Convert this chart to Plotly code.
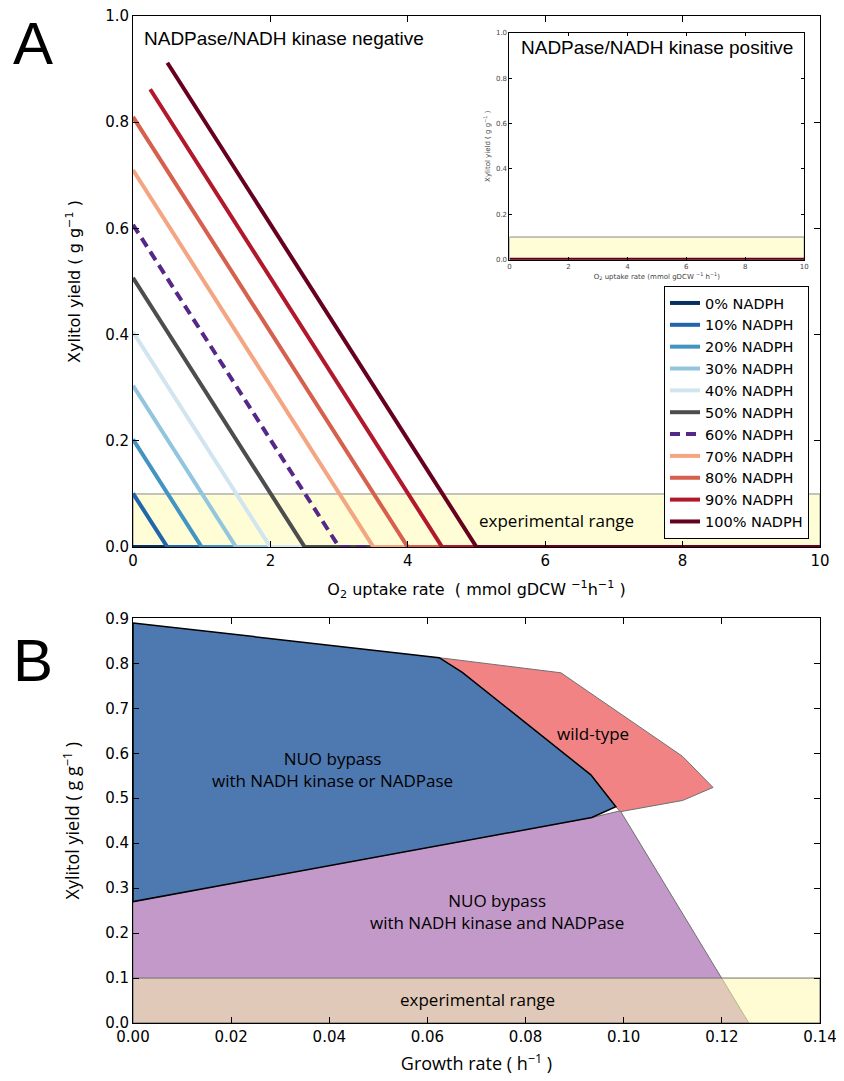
import plotly.graph_objects as go

# ---------------- Panel A data ----------------
nadph_labels = ["0% NADPH", "10% NADPH", "20% NADPH", "30% NADPH", "40% NADPH",
                "50% NADPH", "60% NADPH", "70% NADPH", "80% NADPH", "90% NADPH",
                "100% NADPH"]
line_colors = ["#053061", "#2166ac", "#4393c3", "#92c5de", "#d1e5f0", "#4d4d4d",
               "#542788", "#f4a582", "#d6604d", "#b2182b", "#67001f"]
# start point (x, y), point where yield reaches zero, end of axis
start_x = [0.0, 0.0, 0.0, 0.0, 0.0, 0.0, 0.0, 0.0, 0.0, 0.25, 0.5]
start_y = [0.0, 0.101, 0.203, 0.304, 0.405, 0.507, 0.607, 0.71, 0.81, 0.862, 0.912]
zero_x = [0.0, 0.5, 1.0, 1.5, 2.0, 2.5, 3.0, 3.5, 4.0, 4.5, 5.0]
end_x = 10.0

exp_range_A = [0.0, 0.1]
inset_x = [0.0, 10.0]
inset_y = [0.0, 0.0]

# ---------------- Panel B data ----------------
blue_x = [0.0, 0.0624, 0.0671, 0.0933, 0.0984, 0.0935, 0.0]
blue_y = [0.89, 0.8126, 0.780, 0.552, 0.481, 0.457, 0.270]
red_x = [0.0624, 0.0872, 0.0928, 0.112, 0.1182, 0.112, 0.0993, 0.0984, 0.0933, 0.0671, 0.0624]
red_y = [0.8126, 0.779, 0.737, 0.593, 0.524, 0.495, 0.470, 0.481, 0.552, 0.780, 0.8126]
purple_x = [0.0, 0.0, 0.0935, 0.0993, 0.1255, 0.0]
purple_y = [0.0, 0.270, 0.457, 0.472, 0.0, 0.0]
exp_range_B = [0.0, 0.1]

fig = go.Figure()

# ---- Panel A ----
fig.add_trace(go.Scatter(x=[0, end_x, end_x, 0, 0],
                         y=[exp_range_A[0], exp_range_A[0], exp_range_A[1], exp_range_A[1], exp_range_A[0]],
                         fill="toself", fillcolor="#fffdd5", mode="lines",
                         line=dict(color="#888888", width=1), showlegend=False,
                         hoverinfo="skip", xaxis="x", yaxis="y"))
for i, lab in enumerate(nadph_labels):
    fig.add_trace(go.Scatter(
        x=[start_x[i], zero_x[i], end_x], y=[start_y[i], 0.0, 0.0],
        mode="lines", name=lab,
        line=dict(color=line_colors[i], width=4,
                  dash="10px,6px" if i == 6 else "solid"),
        xaxis="x", yaxis="y"))

# ---- Inset ----
fig.add_trace(go.Scatter(x=[0, 10, 10, 0, 0], y=[0, 0, 0.1, 0.1, 0],
                         fill="toself", fillcolor="#fffdd5", mode="lines",
                         line=dict(color="#888888", width=1), showlegend=False,
                         hoverinfo="skip", xaxis="x2", yaxis="y2"))
fig.add_trace(go.Scatter(x=inset_x, y=inset_y, mode="lines",
                         line=dict(color=line_colors[-1], width=4),
                         showlegend=False, xaxis="x2", yaxis="y2"))

# ---- Panel B ----
fig.add_trace(go.Scatter(x=purple_x, y=purple_y, fill="toself", fillcolor="#c399c9",
                         mode="lines", line=dict(color="#707070", width=1),
                         showlegend=False, hoverinfo="skip", xaxis="x3", yaxis="y3"))
fig.add_trace(go.Scatter(x=red_x, y=red_y, fill="toself", fillcolor="rgba(240,124,126,0.95)",
                         mode="lines", line=dict(color="#707070", width=1),
                         showlegend=False, hoverinfo="skip", xaxis="x3", yaxis="y3"))
fig.add_trace(go.Scatter(x=blue_x + [blue_x[0]], y=blue_y + [blue_y[0]], fill="toself",
                         fillcolor="#4e78b0", mode="lines", line=dict(color="black", width=1.5),
                         showlegend=False, hoverinfo="skip", xaxis="x3", yaxis="y3"))
fig.add_trace(go.Scatter(x=[0, 0.14, 0.14, 0, 0],
                         y=[exp_range_B[0], exp_range_B[0], exp_range_B[1], exp_range_B[1], exp_range_B[0]],
                         fill="toself", fillcolor="rgba(255,250,170,0.5)", mode="lines",
                         line=dict(color="#707070", width=1), showlegend=False,
                         hoverinfo="skip", xaxis="x3", yaxis="y3"))

tickfont = dict(family="DejaVu Sans", size=15, color="black")
ax_common = dict(showgrid=False, zeroline=False, showline=True, linecolor="black",
                 linewidth=1, mirror="ticks", ticks="inside", ticklen=6,
                 tickcolor="black", tickfont=tickfont, automargin=False,
                 ticklabeloverflow="allow")

narrow = "Open Sans, sans-serif"
small = dict(family="DejaVu Sans", size=7, color="#444")

# the page adds an 8px body margin, so the figure is 8px smaller on each side
fig.update_layout(
    width=836, height=1073,
    margin=dict(l=124.5, r=24, t=7.5, b=58.3, autoexpand=False),
    paper_bgcolor="white", plot_bgcolor="white",
    showlegend=True,
    legend=dict(x=0.984, y=0.4806, xanchor="right", yanchor="bottom",
                bgcolor="white", bordercolor="black", borderwidth=1,
                font=dict(family="DejaVu Sans", size=14.5, color="black"),
                tracegroupgap=0, itemwidth=30),
    xaxis=dict(ax_common, domain=[0, 1], range=[0, 10], dtick=2, anchor="y",
               title=dict(text="O<sub>2</sub> uptake rate  ( mmol gDCW <sup>−1</sup>h<sup>−1</sup> )",
                          font=dict(family="DejaVu Sans", size=16, color="black"), standoff=14)),
    yaxis=dict(ax_common, domain=[0.4726, 1], range=[0, 1.0], dtick=0.2, tickformat=".1f",
               anchor="x",
               title=dict(text="Xylitol yield ( g g<sup>−1</sup> )",
                          font=dict(family="DejaVu Sans", size=16, color="black"), standoff=20)),
    xaxis2=dict(ax_common, domain=[0.548, 0.977], range=[0, 10], dtick=2, anchor="y2",
                ticklen=3, tickfont=small,
                title=dict(text="O<sub>2</sub> uptake rate (mmol gDCW <sup>−1</sup> h<sup>−1</sup>)",
                           font=small, standoff=2)),
    yaxis2=dict(ax_common, domain=[0.758, 0.9833], range=[0, 1.0], dtick=0.2, tickformat=".1f",
                anchor="x2", ticklen=3, tickfont=small,
                title=dict(text="Xylitol yield ( g g<sup>−1</sup> )", font=small, standoff=4)),
    xaxis3=dict(ax_common, domain=[0, 1], range=[0, 0.14], dtick=0.02, tickformat=".2f",
                anchor="y3",
                title=dict(text="Growth rate ( h<sup>−1</sup> )",
                           font=dict(family=narrow, size=18, color="black"), standoff=12)),
    yaxis3=dict(ax_common, domain=[0, 0.4018], range=[0, 0.9], dtick=0.1, tickformat=".1f",
                anchor="x3",
                title=dict(text="Xylitol yield ( g g<sup>−1</sup> )",
                           font=dict(family=narrow, size=18, color="black"), standoff=20)),
)

ann_font = dict(family=narrow, size=17, color="black")
fig.update_layout(annotations=[
    dict(text="A", x=-0.145, y=1.0075, xref="paper", yref="paper", xanchor="center", yanchor="top",
         showarrow=False, font=dict(family="Liberation Sans", size=60, color="black")),
    dict(text="B", x=-0.145, y=0.360, xref="paper", yref="paper", xanchor="center",
         yanchor="middle", showarrow=False, font=dict(family="Liberation Sans", size=60, color="black")),
    dict(text="NADPase/NADH kinase negative", x=0.13, y=0.958, xref="x", yref="y",
         xanchor="left", yanchor="middle", showarrow=False,
         font=dict(family="Liberation Sans", size=19, color="black")),
    dict(text="NADPase/NADH kinase positive", x=5.0, y=0.935, xref="x2", yref="y2",
         xanchor="center", yanchor="middle", showarrow=False,
         font=dict(family="Liberation Sans", size=19, color="black")),
    dict(text="experimental range", x=6.17, y=0.05, xref="x", yref="y",
         xanchor="center", yanchor="middle", showarrow=False,
         font=dict(family=narrow, size=17, color="black")),
    dict(text="NUO bypass<br>with NADH kinase or NADPase", x=0.0407, y=0.563, xref="x3", yref="y3",
         xanchor="center", yanchor="middle", showarrow=False, font=ann_font),
    dict(text="wild-type", x=0.0937, y=0.643, xref="x3", yref="y3",
         xanchor="center", yanchor="middle", showarrow=False, font=ann_font),
    dict(text="NUO bypass<br>with NADH kinase and NADPase", x=0.0741, y=0.248, xref="x3", yref="y3",
         xanchor="center", yanchor="middle", showarrow=False, font=ann_font),
    dict(text="experimental range", x=0.0702, y=0.052, xref="x3", yref="y3",
         xanchor="center", yanchor="middle", showarrow=False, font=ann_font),
])

fig.write_html("out.html")
